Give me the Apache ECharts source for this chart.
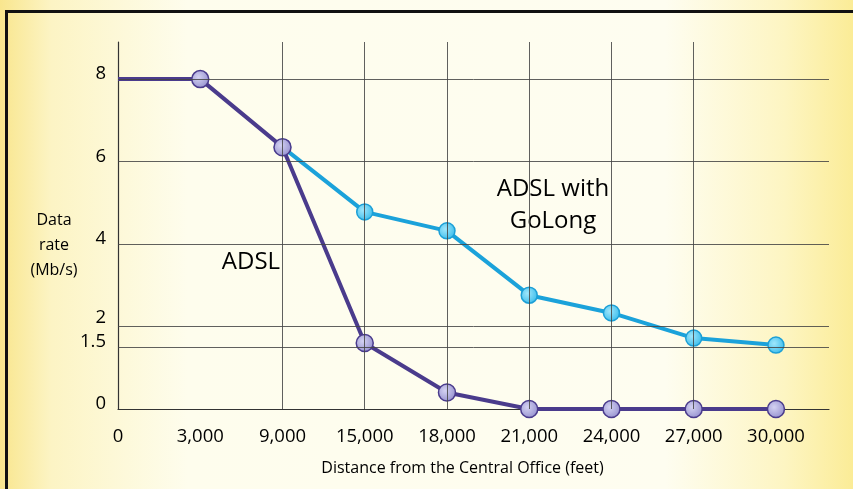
<!DOCTYPE html>
<html>
<head>
<meta charset="utf-8">
<script src="https://cdn.jsdelivr.net/npm/echarts@6/dist/echarts.min.js"></script>
<style>
  html, body { margin: 0; padding: 0; }
  #main { width: 853px; height: 489px; }
</style>
</head>
<body>
<div id="main"></div>
<script>
var myChart = echarts.init(document.getElementById('main'));

// distance labels (feet), evenly spaced on the chart
var categories = ['0', '3,000', '9,000', '15,000', '18,000', '21,000', '24,000', '27,000', '30,000'];
// data rate (Mb/s)
var adsl = [8, 8, 6.35, 1.6, 0.4, 0, 0, 0, 0];
var goLong = [null, null, 6.35, 4.78, 4.32, 2.76, 2.33, 1.72, 1.55];
var yLabels = [0, 1.5, 2, 4, 6, 8];
var gridX = [2, 3, 4, 5, 6, 7];   // vertical rules at these category indexes

var font = '"Open Sans", "Noto Sans", sans-serif';

function toPoints(arr) {
    var res = [];
    arr.forEach(function (v, i) {
        if (v === null) return;
        // the ADSL curve starts at the axis with no dot
        res.push(i === 0 ? { value: [i, v], symbol: 'none' } : [i, v]);
    });
    return res;
}

var rules = [];
yLabels.slice(1).forEach(function (v) { rules.push({ yAxis: v }); });
gridX.forEach(function (i) { rules.push({ xAxis: i }); });

var marker = function (light, dark) {
    return new echarts.graphic.RadialGradient(0.4, 0.4, 0.7, [
        { offset: 0, color: light },
        { offset: 1, color: dark }
    ]);
};

var option = {
    backgroundColor: new echarts.graphic.LinearGradient(0, 0, 1, 0, [
        { offset: 0, color: '#f9e68e' },
        { offset: 0.06, color: '#fcf4c4' },
        { offset: 0.22, color: '#fefded' },
        { offset: 0.78, color: '#fefdf0' },
        { offset: 0.92, color: '#fdf5c2' },
        { offset: 1, color: '#fbec97' }
    ]),
    grid: { left: 118, right: 24, top: 42, bottom: 80 },
    xAxis: {
        type: 'value',
        min: 0,
        max: 8.645,
        name: 'Distance from the Central Office (feet)',
        nameLocation: 'middle',
        nameGap: 51,
        nameTextStyle: { fontFamily: font, fontSize: 16, color: '#000', padding: [0, 22, 0, 0] },
        axisLine: { show: true, lineStyle: { color: '#333', width: 1.2 } },
        axisTick: { show: false },
        splitLine: { show: false },
        axisLabel: {
            customValues: [0, 1, 2, 3, 4, 5, 6, 7, 8],
            formatter: function (v) { return categories[v]; },
            margin: 18,
            fontFamily: font,
            fontSize: 18.5,
            color: '#000'
        }
    },
    yAxis: {
        type: 'value',
        min: 0,
        max: 8.9,
        axisLine: { show: true, lineStyle: { color: '#333', width: 1.2 } },
        axisTick: { show: false },
        splitLine: { show: false },
        axisLabel: {
            customValues: yLabels,
            margin: 12,
            fontFamily: font,
            fontSize: 18.5,
            color: '#000',
            // labels sit a little above their rules, "2" more so to clear "1.5"
            formatter: function (v) { return v === 2 ? '{hi|2}' : '{n|' + v + '}'; },
            rich: {
                n: { fontFamily: font, fontSize: 18.5, color: '#000', padding: [0, 0, 10, 0] },
                hi: { fontFamily: font, fontSize: 18.5, color: '#000', padding: [0, 0, 17, 0] }
            }
        }
    },
    graphic: [
        { type: 'rect', shape: { x: 5, y: 10, width: 853, height: 3 }, style: { fill: '#111' } },
        { type: 'rect', shape: { x: 5, y: 10, width: 3, height: 479 }, style: { fill: '#111' } },
        {
            type: 'text', x: 54, y: 208,
            style: {
                text: 'Data\nrate\n(Mb/s)', textAlign: 'center',
                font: '16px ' + font, fill: '#000', lineHeight: 25
            }
        },
        {
            type: 'text', x: 251, y: 262,
            style: { text: 'ADSL', textAlign: 'center', textVerticalAlign: 'middle', font: '24px ' + font, fill: '#000' }
        },
        {
            type: 'text', x: 553, y: 205,
            style: {
                text: 'ADSL with\nGoLong', textAlign: 'center', textVerticalAlign: 'middle',
                font: '24px ' + font, fill: '#000', lineHeight: 32
            }
        }
    ],
    series: [
        {
            name: 'rules',
            type: 'line',
            data: [],
            silent: true,
            markLine: {
                silent: true,
                symbol: ['none', 'none'],
                label: { show: false },
                lineStyle: { color: '#444', width: 1, type: 'solid', opacity: 0.85 },
                data: rules
            }
        },
        {
            name: 'ADSL with GoLong',
            type: 'line',
            data: toPoints(goLong),
            symbol: 'circle',
            symbolSize: 16,
            lineStyle: { color: '#1ba2da', width: 4 },
            itemStyle: { color: marker('#9fe6fb', '#2fb8ea'), borderColor: '#1c9fd6', borderWidth: 1.5 },
            z: 3
        },
        {
            name: 'ADSL',
            type: 'line',
            data: toPoints(adsl),
            symbol: 'circle',
            symbolSize: 17,
            lineStyle: { color: '#4a3b8c', width: 4 },
            itemStyle: { color: marker('#d4d2f2', '#8f8acb'), borderColor: '#4a3b8c', borderWidth: 1.5 },
            z: 4
        }
    ]
};

myChart.setOption(option);
window.onresize = myChart.resize;
</script>
</body>
</html>
